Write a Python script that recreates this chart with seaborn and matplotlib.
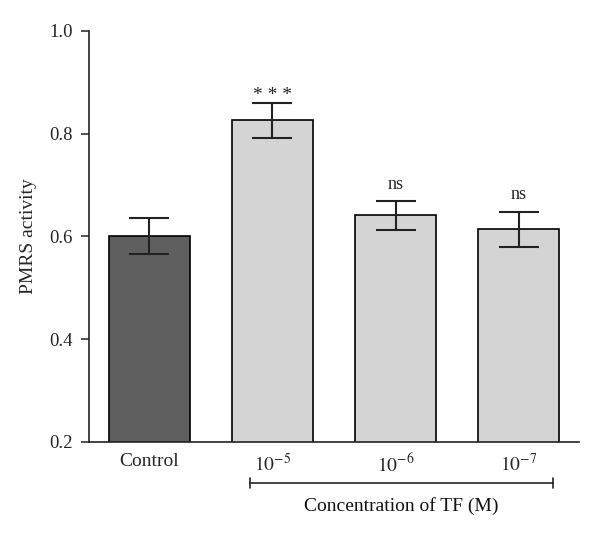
import matplotlib
matplotlib.use("Agg")
import matplotlib.pyplot as plt
import matplotlib.transforms as mtransforms
import seaborn as sns
import pandas as pd

categories = ["Control", "1e-5", "1e-6", "1e-7"]
tick_labels = ["Control", r"$10^{-5}$", r"$10^{-6}$", r"$10^{-7}$"]
values = [0.600, 0.826, 0.641, 0.614]
errors = [0.035, 0.034, 0.028, 0.034]
annotations = ["", "* * *", "ns", "ns"]
bar_colors = ["#5f5f5f", "#d4d4d4", "#d4d4d4", "#d4d4d4"]
y_ticks = [0.2, 0.4, 0.6, 0.8, 1.0]
y_tick_labels = ["0.2", "0.4", "0.6", "0.8", "1.0"]

sns.set_theme(style="white")
plt.rcParams["font.family"] = ["Liberation Serif", "DejaVu Serif"]
plt.rcParams["mathtext.fontset"] = "stix"

df = pd.DataFrame({"group": categories, "value": values})

fig = plt.figure(figsize=(6.0, 5.39), dpi=100)
ax = fig.add_axes([0.1483, 0.1805, 0.8167, 0.762])

sns.barplot(data=df, x="group", y="value", hue="group", palette=bar_colors,
            order=categories, hue_order=categories, legend=False,
            width=0.66, edgecolor="black", linewidth=1.2, errorbar=None,
            saturation=1, ax=ax, bottom=0)

ax.errorbar(range(len(categories)), values, yerr=errors, fmt="none",
            ecolor="#222222", elinewidth=1.5, capsize=14.4, capthick=1.5,
            zorder=5)

for i, (v, e, t) in enumerate(zip(values, errors, annotations)):
    if t:
        ax.annotate(t, xy=(i, v + e), xytext=(0, -1 if t != "ns" else 6),
                    textcoords="offset points", ha="center", va="bottom",
                    fontsize=14 if t != "ns" else 13, color="#222222")

ax.set_ylim(0.2, 1.0)
ax.set_xlim(-0.49, 3.49)
ax.set_yticks(y_ticks)
ax.set_yticklabels(y_tick_labels, fontsize=13.5)
ax.set_xticks(range(len(categories)))
ax.set_xticklabels(tick_labels, fontsize=14)
ax.tick_params(axis="x", length=0, pad=8)
ax.tick_params(axis="y", length=5.5, width=1.1, pad=6, left=True, color="#222222")
ax.set_xlabel("")
ax.set_ylabel("PMRS activity", fontsize=14, labelpad=9)

for s in ["top", "right"]:
    ax.spines[s].set_visible(False)
for s in ["left", "bottom"]:
    ax.spines[s].set_linewidth(1.2)
    ax.spines[s].set_color("#222222")

# bracket under concentration groups
trans = mtransforms.blended_transform_factory(ax.transData, ax.transAxes)
x0, x1, yb = 0.817, 3.28, -0.1006
ax.plot([x0, x1], [yb, yb], color="#222222", lw=1.2, transform=trans, clip_on=False)
for xx in (x0, x1):
    ax.plot([xx, xx], [yb - 0.013, yb + 0.013], color="#222222", lw=1.2,
            transform=trans, clip_on=False)
ax.text((x0 + x1) / 2, -0.1566, "Concentration of TF (M)", transform=trans,
        ha="center", va="center", fontsize=14, color="#111111")

fig.savefig("out.png", dpi=100)
